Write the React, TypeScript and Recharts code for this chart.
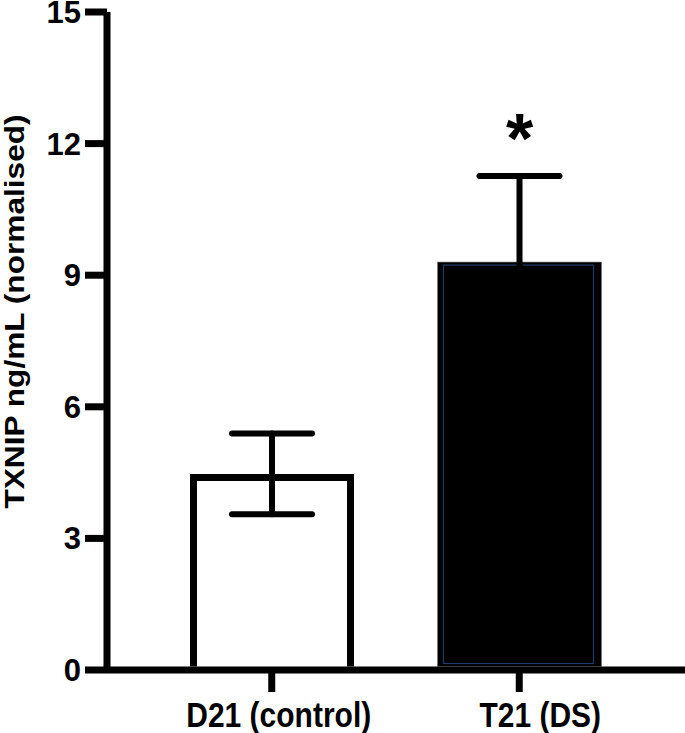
import React from "react";
import { BarChart, Bar, XAxis, YAxis, ErrorBar, LabelList } from "recharts";

const categories = ["D21 (control)", "T21 (DS)"];
const means = [4.47, 9.3];
const sems = [0.92, 1.96];
const significance = ["", "*"];
const barFills = ["#ffffff", "#000000"];
const yTicks = [0, 3, 6, 9, 12, 15];

const data = categories.map((name, i) => ({
  name,
  mean: means[i],
  err: sems[i],
  sig: significance[i],
  fill: barFills[i],
}));

const FONT = '"Liberation Sans", Arial, Helvetica, sans-serif';
const tickNudge = [7, 21];
const SW = 7;

const BarShape = (props: any) => {
  const { x, y, width, height, payload } = props;
  const bottom = y + height - SW / 2;
  if (payload.fill === "#000000") {
    return (
      <g>
        <rect x={x} y={y} width={width} height={height - SW / 2} fill="#000" stroke="#777" strokeWidth={0.6} />
        <rect x={x + 6} y={y + 3} width={width - 14} height={height - 6 - SW / 2} fill="none" stroke="#1e3a66" strokeWidth={1.2} />
      </g>
    );
  }
  const h = SW / 2;
  return (
    <path
      d={`M${x + h},${bottom} L${x + h},${y + h} L${x + width - h},${y + h} L${x + width - h},${bottom}`}
      fill="#ffffff"
      stroke="#000"
      strokeWidth={SW}
      strokeLinejoin="miter"
    />
  );
};

const XTick = (props: any) => {
  const { x, y, payload, index } = props;
  return (
    <text
      transform={`translate(${x + (tickNudge[index] || 0)},${y + 25}) scale(1,1.15)`}
      textAnchor="middle"
      fontFamily={FONT}
      fontWeight="bold"
      fontSize={30}
      fill="#000"
    >
      {payload.value}
    </text>
  );
};

const YTick = (props: any) => {
  const { x, y, payload } = props;
  return (
    <text
      x={x}
      y={y + 11}
      textAnchor="end"
      fontFamily={FONT}
      fontWeight="bold"
      fontSize={31}
      fill="#000"
    >
      {payload.value}
    </text>
  );
};

const YLabel = (props: any) => {
  const vb = props.viewBox || { x: 0, y: 0, width: 0, height: 0 };
  const cy = vb.y + vb.height / 2 - 29.5;
  return (
    <text
      transform={`translate(${vb.x + 24},${cy}) rotate(-90) scale(1.13,1)`}
      textAnchor="middle"
      fontFamily={FONT}
      fontWeight="bold"
      fontSize={28}
      fill="#000"
    >
      TXNIP ng/mL (normalised)
    </text>
  );
};

const SigLabel = (props: any) => {
  const { x, y, width, value } = props;
  if (!value) return null;
  return (
    <text
      x={x + width / 2}
      y={y - 99}
      textAnchor="middle"
      fontFamily={FONT}
      fontWeight="bold"
      fontSize={70}
      fill="#000"
    >
      {value}
    </text>
  );
};

export default function App() {
  return (
    <div style={{ position: "absolute", left: 0, top: 0, background: "#fff" }}>
      <BarChart
        width={685}
        height={733}
        data={data}
        margin={{ top: 12, right: 0, bottom: 0, left: 0 }}
      >
        <XAxis
          dataKey="name"
          type="category"
          padding={{ left: 41, right: 42 }}
          height={63}
          tickSize={22}
          tickMargin={10}
          axisLine={{ stroke: "#000", strokeWidth: SW }}
          tickLine={{ stroke: "#000", strokeWidth: SW }}
          tick={<XTick />}
          interval={0}
        />
        <YAxis
          type="number"
          domain={[0, 15]}
          ticks={yTicks}
          width={107}
          tickSize={22}
          tickMargin={4}
          axisLine={{ stroke: "#000", strokeWidth: SW }}
          tickLine={{ stroke: "#000", strokeWidth: SW }}
          tick={<YTick />}
          label={<YLabel />}
          allowDataOverflow
        />
        <Bar dataKey="mean" barSize={164} shape={<BarShape />} isAnimationActive={false}>
          <ErrorBar
            dataKey="err"
            width={40}
            strokeWidth={6}
            stroke="#000"
            strokeLinecap="round"
            direction="y"
            isAnimationActive={false}
          />
          <LabelList dataKey="sig" content={<SigLabel />} />
        </Bar>
      </BarChart>
    </div>
  );
}
